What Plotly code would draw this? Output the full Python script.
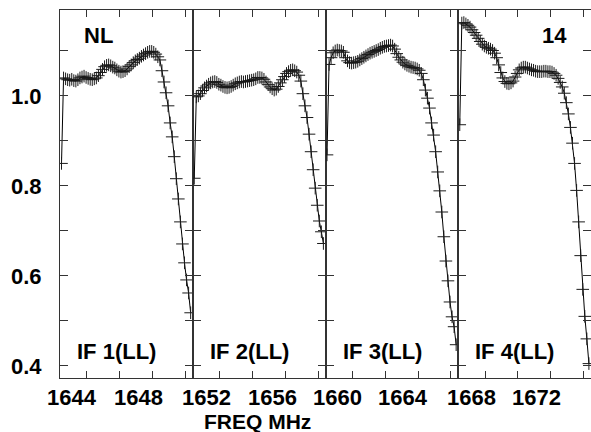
import plotly.graph_objects as go
from plotly.subplots import make_subplots
import numpy as np

# ---------------- data ----------------
panel_names = ["IF 1(LL)", "IF 2(LL)", "IF 3(LL)", "IF 4(LL)"]
chan_start = [1643.33, 1651.25, 1659.35, 1667.30]   # MHz, first channel of each IF
chan_step = 0.125                                    # MHz

if1 = [0.850, 1.040, 1.038, 1.036, 1.035, 1.037, 1.034, 1.033, 1.036, 1.040,
       1.042, 1.044, 1.041, 1.039, 1.037, 1.036, 1.038, 1.040, 1.045, 1.052,
       1.059, 1.065, 1.068, 1.069, 1.067, 1.064, 1.062, 1.058, 1.055, 1.053,
       1.054, 1.056, 1.060, 1.065, 1.069, 1.074, 1.078, 1.081, 1.084, 1.088,
       1.091, 1.094, 1.097, 1.099, 1.099, 1.097, 1.093, 1.087, 1.080, 1.056,
       1.031, 1.007, 0.978, 0.940, 0.909, 0.865, 0.816, 0.771, 0.720, 0.671,
       0.629, 0.591, 0.562, 0.518]
if2 = [0.817, 0.998, 1.000, 1.005, 1.012, 1.018, 1.022, 1.026, 1.029, 1.031,
       1.032, 1.030, 1.026, 1.024, 1.021, 1.019, 1.018, 1.019, 1.021, 1.024,
       1.027, 1.029, 1.031, 1.032, 1.031, 1.032, 1.033, 1.034, 1.035, 1.036,
       1.038, 1.041, 1.041, 1.040, 1.037, 1.031, 1.025, 1.020, 1.016, 1.013,
       1.015, 1.021, 1.029, 1.036, 1.043, 1.050, 1.054, 1.057, 1.058, 1.056,
       1.053, 1.046, 1.033, 1.005, 0.978, 0.952, 0.915, 0.876, 0.836, 0.795,
       0.757, 0.722, 0.698, 0.672]
if3 = [0.869, 1.070, 1.085, 1.096, 1.100, 1.102, 1.101, 1.100, 1.097, 1.085,
       1.078, 1.074, 1.073, 1.074, 1.075, 1.077, 1.080, 1.083, 1.086, 1.089,
       1.092, 1.095, 1.097, 1.099, 1.101, 1.103, 1.106, 1.108, 1.110, 1.111,
       1.112, 1.113, 1.111, 1.104, 1.094, 1.086, 1.080, 1.075, 1.071, 1.068,
       1.066, 1.064, 1.063, 1.062, 1.060, 1.057, 1.050, 1.036, 1.013, 0.995,
       0.973, 0.940, 0.913, 0.876, 0.831, 0.789, 0.742, 0.687, 0.633, 0.589,
       0.542, 0.509, 0.487, 0.447]
if4 = [0.936, 1.162, 1.163, 1.160, 1.157, 1.153, 1.147, 1.141, 1.135, 1.128,
       1.121, 1.115, 1.111, 1.108, 1.106, 1.104, 1.101, 1.095, 1.085, 1.069,
       1.052, 1.040, 1.032, 1.028, 1.027, 1.029, 1.033, 1.042, 1.050, 1.058,
       1.062, 1.064, 1.064, 1.062, 1.060, 1.058, 1.057, 1.055, 1.054, 1.054,
       1.054, 1.055, 1.055, 1.054, 1.054, 1.053, 1.050, 1.046, 1.039, 1.030,
       1.020, 1.006, 0.985, 0.960, 0.930, 0.895, 0.850, 0.790, 0.720, 0.645,
       0.570, 0.510, 0.460, 0.405]
series = [if1, if2, if3, if4]

xlabel_vals = [[1644, 1648], [1652, 1656], [1660, 1664], [1668, 1672]]
ytick_vals = [0.4, 0.5, 0.6, 0.7, 0.8, 0.9, 1.0, 1.1]
ytick_text = ["0.4", "", "0.6", "", "0.8", "", "1.0", ""]
source_label = "NL"
plot_number = "14"
x_title = "FREQ MHz"

# ---------------- figure ----------------
W, H = 591, 432
ML, MR, MT, MB = 60, 0, 10, 54
PW = W - ML - MR
PH = H - MT - MB
pw = PW / 4.0
px_per_mhz = 16.4
fig = make_subplots(rows=1, cols=4, shared_yaxes=True, horizontal_spacing=0)

FONT = "Liberation Sans, Arial, sans-serif"
FS = 22
frame_col = "#333333"

for k in range(4):
    vals = series[k]
    freqs = chan_start[k] + chan_step * np.arange(len(vals))
    fig.add_trace(go.Scatter(
        x=freqs, y=vals, mode="lines+markers",
        line=dict(color="black", width=1),
        marker=dict(symbol="cross-thin", size=9,
                    line=dict(color="#1a1a1a", width=1)),
        showlegend=False), row=1, col=k + 1)
    x0 = chan_start[k] - 1.5 / px_per_mhz
    x1 = x0 + pw / px_per_mhz
    ticks = [chan_start[k] + 1.55 + 2 * j for j in range(4)]
    fig.update_xaxes(range=[x0, x1], tickvals=ticks, ticks="inside", ticklen=7,
                     tickcolor=frame_col, showticklabels=False, showgrid=False,
                     zeroline=False, showline=True, linecolor=frame_col,
                     linewidth=1, mirror="ticks", row=1, col=k + 1)
    fig.update_yaxes(range=[0.373, 1.191], tickvals=ytick_vals,
                     ticktext=[f"<b>{t}</b>" if t else "" for t in ytick_text],
                     ticks="inside", ticklen=8,
                     tickcolor=frame_col, showgrid=False, zeroline=False,
                     showline=True, linecolor=frame_col, linewidth=1,
                     mirror="ticks", showticklabels=(k == 0),
                     row=1, col=k + 1)
    xref = "x" if k == 0 else f"x{k + 1}"
    for v in xlabel_vals[k]:
        fig.add_annotation(x=v, xref=xref, y=(MT + PH - 397.5) / PH, yref="paper",
                           text=f"<b>{v}</b>", showarrow=False,
                           xanchor="center", yanchor="middle",
                           font=dict(family=FONT, size=FS, color="black"))
    fig.add_annotation(x=15 / pw, xref=f"{xref} domain",
                       y=(MT + PH - 351) / PH, yref="paper",
                       text=f"<b>{panel_names[k]}</b>", showarrow=False,
                       xanchor="left", yanchor="middle",
                       font=dict(family=FONT, size=FS, color="black"))

fig.update_yaxes(tickfont=dict(family=FONT, size=FS, color="black"),
                 ticklabelstandoff=13, row=1, col=1)

fig.add_annotation(x=(98 - ML) / PW, xref="paper", y=(MT + PH - 35) / PH, yref="paper",
                   text=f"<b>{source_label}</b>", showarrow=False,
                   xanchor="center", yanchor="middle",
                   font=dict(family=FONT, size=FS, color="black"))
fig.add_annotation(x=(554.5 - ML) / PW, xref="paper", y=(MT + PH - 35) / PH, yref="paper",
                   text=f"<b>{plot_number}</b>", showarrow=False,
                   xanchor="center", yanchor="middle",
                   font=dict(family=FONT, size=FS, color="black"))
fig.add_annotation(x=(257 - ML) / PW, xref="paper",
                   y=(MT + PH - 421) / PH, yref="paper",
                   text=f"<b>{x_title}</b>", showarrow=False,
                   xanchor="center", yanchor="middle",
                   font=dict(family=FONT, size=FS - 1, color="black"))

fig.update_layout(width=W, height=H,
                  margin=dict(l=ML, r=MR, t=MT, b=MB, pad=0),
                  paper_bgcolor="white", plot_bgcolor="white",
                  showlegend=False)

fig.write_html("out.html", config={"displayModeBar": False},
               post_script="document.body.style.margin='0';document.body.style.overflow='hidden';")
